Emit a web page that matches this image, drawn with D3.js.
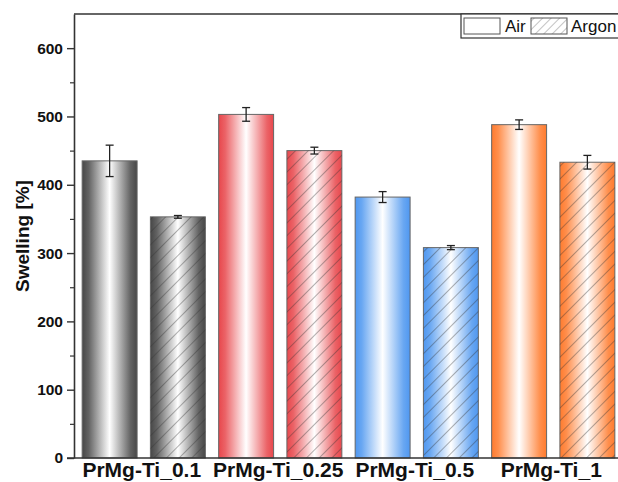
<!DOCTYPE html>
<html>
<head>
<meta charset="utf-8">
<script src="https://cdn.jsdelivr.net/npm/d3@7"></script>
<style>
  body { margin: 0; background: #fff; }
  svg { display: block; font-family: "Liberation Sans", Arial, sans-serif; }
</style>
</head>
<body>
<svg id="chart" width="618" height="482"></svg>
<script>
// data
var groups = ["PrMg-Ti_0.1", "PrMg-Ti_0.25", "PrMg-Ti_0.5", "PrMg-Ti_1"];
var series = ["Air", "Argon"];
var airValues = [435, 503, 382, 488];
var airErrors = [23, 10, 8, 7];
var argonValues = [353, 450, 308, 433];
var argonErrors = [2, 5, 3, 10];
var groupColors = ["#474747", "#e8474c", "#4f97f0", "#ff7b2e"];
var yTicks = [0, 100, 200, 300, 400, 500, 600];
var yMinor = [50, 150, 250, 350, 450, 550];

var svg = d3.select("#chart");
var defs = svg.append("defs");

// horizontal gradients, dark at the edges and white in the middle
groupColors.forEach(function(c, i) {
  var g = defs.append("linearGradient")
    .attr("id", "grad" + i)
    .attr("x1", "0%").attr("x2", "100%").attr("y1", "0%").attr("y2", "0%");
  g.append("stop").attr("offset", "0%").attr("stop-color", c);
  g.append("stop").attr("offset", "12%").attr("stop-color", d3.interpolateRgb(c, "#fff")(0.15));
  g.append("stop").attr("offset", "50%").attr("stop-color", "#fff");
  g.append("stop").attr("offset", "88%").attr("stop-color", d3.interpolateRgb(c, "#fff")(0.15));
  g.append("stop").attr("offset", "100%").attr("stop-color", c);
});

// diagonal hatch
var hatch = defs.append("pattern")
  .attr("id", "hatch")
  .attr("patternUnits", "userSpaceOnUse")
  .attr("width", 9).attr("height", 9)
  .attr("patternTransform", "rotate(45)");
hatch.append("line")
  .attr("x1", 0).attr("y1", 0).attr("x2", 0).attr("y2", 9)
  .attr("stroke", "#333").attr("stroke-width", 1).attr("stroke-opacity", 0.75);

var hatchLight = defs.append("pattern")
  .attr("id", "hatchLight")
  .attr("patternUnits", "userSpaceOnUse")
  .attr("width", 6).attr("height", 6)
  .attr("patternTransform", "rotate(45)");
hatchLight.append("line")
  .attr("x1", 0).attr("y1", 0).attr("x2", 0).attr("y2", 6)
  .attr("stroke", "#888").attr("stroke-width", 1);

var y = d3.scaleLinear().domain([0, 650]).range([458, 14]);
var x = d3.scaleBand().domain(groups).range([75.5, 621.5]).padding(0);
var xs = d3.scaleBand().domain(series).range([0, x.bandwidth()])
  .paddingInner(0.195).paddingOuter(0.0975);

// bars
var rows = [];
groups.forEach(function(g, i) {
  rows.push({ g: g, s: "Air", v: airValues[i], e: airErrors[i], i: i });
  rows.push({ g: g, s: "Argon", v: argonValues[i], e: argonErrors[i], i: i });
});

var bars = svg.append("g");
bars.selectAll("rect.bar")
  .data(rows)
  .enter().append("rect")
  .attr("class", "bar")
  .attr("x", function(d) { return x(d.g) + xs(d.s); })
  .attr("y", function(d) { return y(d.v); })
  .attr("width", xs.bandwidth())
  .attr("height", function(d) { return y(0) - y(d.v); })
  .attr("fill", function(d) { return "url(#grad" + d.i + ")"; })
  .attr("stroke", "#666")
  .attr("stroke-width", 1);

bars.selectAll("rect.hatch")
  .data(rows.filter(function(d) { return d.s == "Argon"; }))
  .enter().append("rect")
  .attr("class", "hatch")
  .attr("x", function(d) { return x(d.g) + xs(d.s); })
  .attr("y", function(d) { return y(d.v); })
  .attr("width", xs.bandwidth())
  .attr("height", function(d) { return y(0) - y(d.v); })
  .attr("fill", "url(#hatch)");

// error bars
var err = svg.append("g").attr("stroke", "#222").attr("stroke-width", 1.3);
rows.forEach(function(d) {
  var cx = x(d.g) + xs(d.s) + xs.bandwidth() / 2;
  err.append("line").attr("x1", cx).attr("x2", cx)
    .attr("y1", y(d.v + d.e)).attr("y2", y(d.v - d.e));
  err.append("line").attr("x1", cx - 4).attr("x2", cx + 4)
    .attr("y1", y(d.v + d.e)).attr("y2", y(d.v + d.e));
  err.append("line").attr("x1", cx - 4).attr("x2", cx + 4)
    .attr("y1", y(d.v - d.e)).attr("y2", y(d.v - d.e));
});

// y axis
var yAxis = svg.append("g")
  .attr("transform", "translate(74,0)")
  .call(d3.axisLeft(y).tickValues(yTicks).tickSize(7).tickPadding(4).tickSizeOuter(0));
yAxis.select(".domain").attr("stroke", "#333").attr("stroke-width", 1.6);
yAxis.selectAll(".tick line").attr("stroke", "#333").attr("stroke-width", 1.4);
yAxis.selectAll(".tick text")
  .attr("font-size", 15.5).attr("font-weight", "bold").attr("fill", "#111")
  .attr("font-family", "Liberation Sans, Arial, sans-serif");

var minor = svg.append("g")
  .attr("transform", "translate(74,0)")
  .call(d3.axisLeft(y).tickValues(yMinor).tickSize(4).tickFormat(""));
minor.select(".domain").remove();
minor.selectAll(".tick line").attr("stroke", "#333").attr("stroke-width", 1.2);

// x axis line and top border
svg.append("line").attr("x1", 67).attr("x2", 618).attr("y1", y(0)).attr("y2", y(0))
  .attr("stroke", "#333").attr("stroke-width", 1.6);
svg.append("line").attr("x1", 74).attr("x2", 618).attr("y1", y(650)).attr("y2", y(650))
  .attr("stroke", "#333").attr("stroke-width", 1.6);

// group labels
svg.append("g").selectAll("text")
  .data(groups)
  .enter().append("text")
  .attr("x", function(d) { return x(d) + x.bandwidth() / 2 - 2; })
  .attr("y", 477)
  .attr("text-anchor", "middle")
  .attr("font-size", 21)
  .attr("font-weight", "bold")
  .attr("fill", "#111")
  .text(function(d) { return d; });

// y label
svg.append("text")
  .attr("transform", "translate(29,236) rotate(-90)")
  .attr("text-anchor", "middle")
  .attr("font-size", 19)
  .attr("font-weight", "bold")
  .attr("fill", "#111")
  .text("Swelling [%]");

// legend
var leg = svg.append("g");
leg.append("rect").attr("x", 461).attr("y", 14).attr("width", 170).attr("height", 24)
  .attr("fill", "#fff").attr("stroke", "#333").attr("stroke-width", 1.2);
leg.append("rect").attr("x", 464).attr("y", 18).attr("width", 36).attr("height", 16)
  .attr("fill", "#fff").attr("stroke", "#555").attr("stroke-width", 1);
leg.append("text").attr("x", 505).attr("y", 32).attr("font-size", 17).attr("fill", "#111").text(series[0]);
leg.append("rect").attr("x", 531).attr("y", 18).attr("width", 36).attr("height", 16)
  .attr("fill", "url(#hatchLight)").attr("stroke", "#555").attr("stroke-width", 1);
leg.append("text").attr("x", 571).attr("y", 32).attr("font-size", 17).attr("fill", "#111").text(series[1]);
</script>
</body>
</html>
